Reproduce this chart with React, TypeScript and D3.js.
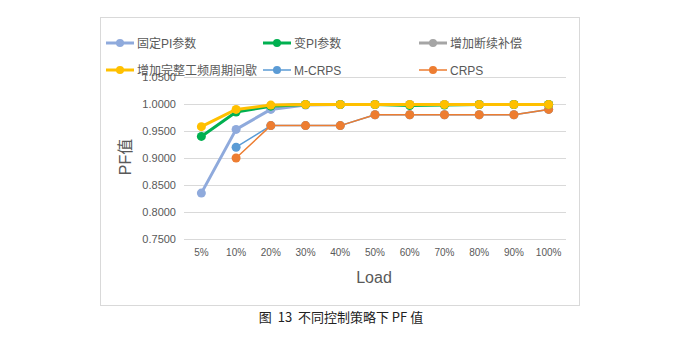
import React from "react";
import * as d3 from "d3";

const categories = ["5%", "10%", "20%", "30%", "40%", "50%", "60%", "70%", "80%", "90%", "100%"];
const fixedPI = [0.835, 0.953, 0.990, 0.998, 0.999, 0.999, 0.999, 0.999, 0.999, 0.999, 0.999];
const varPI = [0.940, 0.985, 0.996, 0.999, 0.999, 0.999, 0.997, 0.998, 0.999, 0.999, 0.999];
const intermittent = [null, null, 0.997, 0.999, 0.999, 0.999, 0.999, 0.999, 0.999, 0.999, 0.999];
const fullCycle = [0.958, 0.990, 0.998, 0.999, 0.999, 0.999, 0.999, 0.999, 0.999, 0.999, 0.999];
const mcrps = [null, 0.920, 0.960, 0.960, 0.960, 0.980, 0.980, 0.980, 0.980, 0.980, 0.990];
const crps = [null, 0.900, 0.960, 0.960, 0.960, 0.980, 0.980, 0.980, 0.980, 0.980, 0.990];
const yTicks = [0.75, 0.8, 0.85, 0.9, 0.95, 1.0, 1.05];

const series = [
  { name: "固定PI参数", values: fixedPI, color: "#8faadc", width: 3, r: 4.5 },
  { name: "变PI参数", values: varPI, color: "#00b050", width: 3, r: 4.5 },
  { name: "增加断续补偿", values: intermittent, color: "#a5a5a5", width: 3, r: 4.5 },
  { name: "增加完整工频周期间歇", values: fullCycle, color: "#ffc000", width: 3, r: 4.5 },
  { name: "M-CRPS", values: mcrps, color: "#5b9bd5", width: 1.5, r: 4.5 },
  { name: "CRPS", values: crps, color: "#ed7d31", width: 1.5, r: 4.5 },
];

const drawOrder = [4, 5, 0, 2, 1, 3];

export default function App() {
  const x = d3.scaleBand<string>().domain(categories).range([184, 566]);
  const y = d3.scaleLinear().domain([0.75, 1.05]).range([239, 77]);
  const font = "'Liberation Sans', Arial, 'Noto Sans CJK SC', sans-serif";
  const cx = (c: string) => (x(c) as number) + x.bandwidth() / 2;
  const line = d3
    .line<number | null>()
    .defined((d) => d != null)
    .x((_, i) => cx(categories[i]))
    .y((d) => y(d as number));

  const legendPos = [
    [106, 43], [263, 43], [419, 43],
    [106, 70], [263, 70], [419, 70],
  ];

  return (
    <svg width={685} height={354} style={{ position: "absolute", left: 0, top: 0 }}>
      <rect x={0} y={0} width={685} height={354} fill="#fff" />
      <rect x={100.5} y={17.5} width={479} height={288} fill="#fff" stroke="#d9d9d9" strokeWidth={1} />
      {yTicks.map((t) => (
        <g key={t}>
          <line x1={184} x2={566} y1={Math.round(y(t)) + 0.5} y2={Math.round(y(t)) + 0.5} stroke="#d9d9d9" />
          <text x={176} y={y(t) + 4} textAnchor="end" fontSize={11} fill="#595959" fontFamily={font}>
            {t.toFixed(4)}
          </text>
        </g>
      ))}
      {categories.map((c) => (
        <text key={c} x={cx(c)} y={256} textAnchor="middle" fontSize={10} fill="#595959" fontFamily={font}>
          {c}
        </text>
      ))}
      {drawOrder.map((si) => {
        const s = series[si];
        return (
          <g key={s.name}>
            <path d={line(s.values) || ""} fill="none" stroke={s.color} strokeWidth={s.width} strokeLinejoin="round" />
            {s.values.map((v, i) =>
              v == null ? null : <circle key={i} cx={cx(categories[i])} cy={y(v)} r={s.r} fill={s.color} />
            )}
          </g>
        );
      })}
      <text x={374} y={283} textAnchor="middle" fontSize={16} fill="#595959" fontFamily={font}>
        Load
      </text>
      <text
        transform="translate(131,157) rotate(-90)"
        textAnchor="middle"
        fontSize={16}
        fill="#595959"
        fontFamily={font}
      >
        PF值
      </text>
      {series.map((s, i) => {
        const [lx, ly] = legendPos[i];
        return (
          <g key={s.name}>
            <line x1={lx} x2={lx + 28} y1={ly} y2={ly} stroke={s.color} strokeWidth={s.width} />
            <circle cx={lx + 14} cy={ly} r={4} fill={s.color} />
            <text x={lx + 31} y={ly + 4.5} fontSize={12} fill="#595959" fontFamily={font}>
              {s.name}
            </text>
          </g>
        );
      })}
      <text
        x={341}
        y={322}
        textAnchor="middle"
        fontSize={13}
        fill="#222"
        fontFamily="'Noto Sans CJK SC', sans-serif"
        style={{ whiteSpace: "pre" }}
      >
        {"图  13  不同控制策略下 PF 值"}
      </text>
    </svg>
  );
}
